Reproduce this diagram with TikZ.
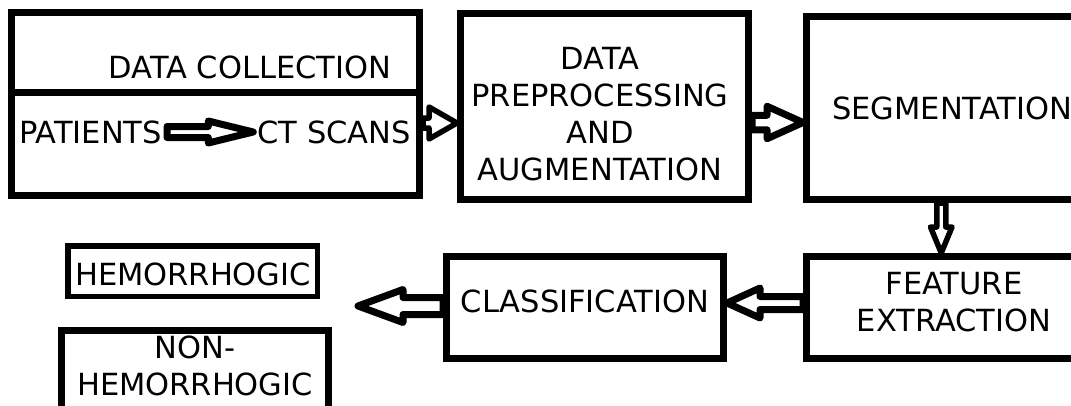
\documentclass[tikz,border=0pt]{standalone}
\usepackage{fontspec}
\setmainfont{DejaVu Sans}
\usetikzlibrary{calc}

\tikzset{
  box/.style={draw=black, line width=7pt, inner sep=0pt},
  lbl/.style={font=\fontsize{30.5}{37}\selectfont, align=center, inner sep=2pt, text=black},
  fat/.style={draw=black, fill=white, line join=round},
}

% hollow block arrow between two points:
% #1 extra style, #2 start, #3 tip, #4 shaft half width, #5 head half width, #6 head length
\newcommand\fatarrow[6]{%
  \path (#2) coordinate (fa-s) (#3) coordinate (fa-e);
  \path ($(fa-e)!#6!(fa-s)$) coordinate (fa-h);
  \draw[fat,#1] ($(fa-s)!#4!90:(fa-e)$) -- ($(fa-h)!#4!-90:(fa-s)$)
     -- ($(fa-h)!#5!-90:(fa-s)$) -- (fa-e) -- ($(fa-h)!#5!90:(fa-s)$)
     -- ($(fa-h)!#4!90:(fa-s)$) -- ($(fa-s)!#4!-90:(fa-e)$) -- cycle;
}

\begin{document}
\begin{tikzpicture}[x=1pt, y=-1pt]
  \useasboundingbox (0,0) rectangle (1071,405);
  \clip (0,0) rectangle (1071,405);
  \fill[white] (0,0) rectangle (1071,405);

  % boxes
  \node[box, minimum width=408pt, minimum height=183pt] (dc) at (215.5,104) {};
  \draw[line width=7pt] (dc.west |- 0,92) -- (dc.east |- 0,92);
  \node[box, minimum width=288pt, minimum height=186pt] (dp) at (604.5,106.5) {};
  \node[box, minimum width=313.5pt, minimum height=183pt] (seg) at (963.25,108) {};
  \node[box, minimum width=313.5pt, minimum height=102pt] (feat) at (963.25,307.5) {};
  \node[box, minimum width=277pt, minimum height=102pt] (cls) at (585,307.5) {};
  \node[box, line width=5.5pt, minimum width=249.5pt, minimum height=50.5pt] (hem) at (192.5,271) {};
  \node[box, minimum width=267pt, minimum height=109.5pt] (nonhem) at (195,385.25) {};

  % labels
  \node[lbl] (dct) at (250,67) {DATA COLLECTION};
  \node[lbl, anchor=west] (pat) at (17,132) {PATIENTS};
  \node[lbl, anchor=east] (cts) at (413,132) {CT SCANS};
  \node[lbl] (dpt) at (600,114.5) {DATA\\PREPROCESSING\\AND\\AUGMENTATION};
  \node[lbl, anchor=west] (segt) at (830,108) {SEGMENTATION};
  \node[lbl] (featt) at (954,302) {FEATURE\\EXTRACTION};
  \node[lbl] (clst) at (585,301) {CLASSIFICATION};
  \node[lbl] (hemt) at (193,274) {HEMORRHOGIC};
  \node[lbl] (nonhemt) at (195,365.5) {NON-\\HEMORRHOGIC};

  \coordinate (out) at (358,306);

  % block arrows
  \fatarrow{line width=7pt}{[xshift=3pt]pat.east}{[xshift=-2pt]cts.west}{5.5pt}{11pt}{45pt}
  \fatarrow{line width=5.5pt}{[yshift=-19pt]dc.east}{[yshift=-16.5pt]dp.west}{5pt}{16pt}{28pt}
  \fatarrow{line width=7pt}{[yshift=-16pt]dp.east}{[yshift=-14.5pt]seg.west}{7.25pt}{16.25pt}{36pt}
  \fatarrow{line width=5.5pt}{[xshift=-22pt]seg.south}{[xshift=-22pt]feat.north}{4.5pt}{10.75pt}{26pt}
  \fatarrow{line width=7pt}{[yshift=4.5pt]feat.west}{[yshift=4.5pt]cls.east}{6.5pt}{15pt}{33pt}
  \fatarrow{line width=7pt}{[yshift=1.5pt]cls.west}{out}{8.5pt}{16.5pt}{45pt}
\end{tikzpicture}
\end{document}
